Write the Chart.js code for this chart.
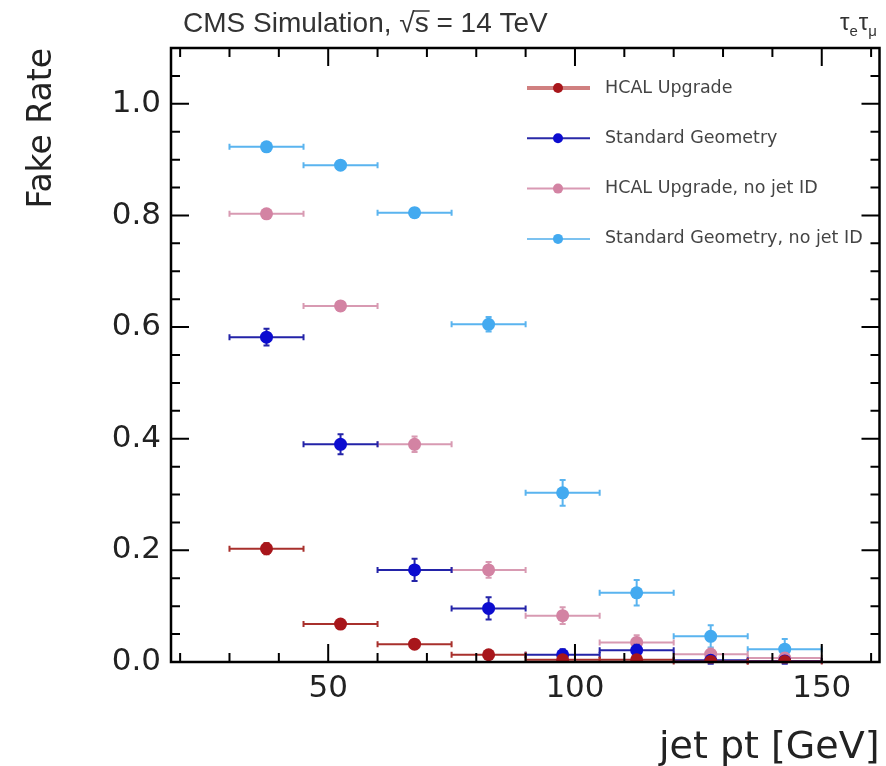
<!DOCTYPE html>
<html>
<head>
<meta charset="utf-8">
<title>Fake Rate vs jet pt</title>
<script src="https://cdn.jsdelivr.net/npm/chart.js@4.4.1/dist/chart.umd.min.js"></script>
<style>
  html, body { margin: 0; padding: 0; background: #fff; }
  canvas { display: block; }
</style>
</head>
<body>
<canvas id="fakeRate" width="886" height="766"></canvas>
<script>
// bins are 15 GeV wide, points sit at the bin centres
const binCenters = [37.5, 52.5, 67.5, 82.5, 97.5, 112.5, 127.5, 142.5];
const binHalfWidth = 7.5;

const hcalUpgrade = [0.203, 0.068, 0.032, 0.013, 0.004, 0.004, 0.001, 0.001];
const hcalUpgradeErr = [0.010, 0.007, 0.006, 0.005, 0.003, 0.003, 0.002, 0.002];

const standardGeom = [0.582, 0.390, 0.165, 0.096, 0.013, 0.021, 0.003, 0.002];
const standardGeomErr = [0.015, 0.018, 0.020, 0.020, 0.010, 0.010, 0.006, 0.005];

const hcalNoJetId = [0.803, 0.638, 0.390, 0.165, 0.083, 0.035, 0.014, 0.007];
const hcalNoJetIdErr = [0.006, 0.008, 0.014, 0.014, 0.015, 0.013, 0.010, 0.009];

const standardNoJetId = [0.923, 0.890, 0.805, 0.605, 0.303, 0.124, 0.046, 0.023];
const standardNoJetIdErr = [0.005, 0.006, 0.008, 0.013, 0.023, 0.023, 0.020, 0.018];

const xTickLabels = [50, 100, 150];
const yTickLabels = [0, 0.2, 0.4, 0.6, 0.8, 1.0];

const axisFont = "'DejaVu Sans', sans-serif";

function makeDataset(label, values, errors, color, errorColor, legendColor, legendWidth) {
  return {
    label: label,
    data: binCenters.map((x, i) => ({ x: x, y: values[i], yErr: errors[i] })),
    pointRadius: 6.5,
    pointHoverRadius: 6.5,
    pointBackgroundColor: color,
    pointBorderColor: color,
    pointBorderWidth: 0,
    showLine: false,
    errorColor: errorColor,
    legendColor: legendColor,
    legendWidth: legendWidth,
  };
}

// error bars: full bin width horizontally, stat error vertically (drawn under each dataset's markers)
const errorBars = {
  id: "errorBars",
  beforeDatasetDraw(chart, args) {
    const ds = chart.data.datasets[args.index];
    const { ctx } = chart;
    const xs = chart.scales.x, ys = chart.scales.y;
    ctx.save();
    ctx.strokeStyle = ds.errorColor;
    ctx.lineWidth = 2;
    ds.data.forEach((p) => {
      const px = xs.getPixelForValue(p.x);
      const py = ys.getPixelForValue(p.y);
      const xl = xs.getPixelForValue(p.x - binHalfWidth);
      const xr = xs.getPixelForValue(p.x + binHalfWidth);
      const yt = ys.getPixelForValue(p.y + p.yErr);
      const yb = ys.getPixelForValue(p.y - p.yErr);
      ctx.beginPath();
      ctx.moveTo(xl, py); ctx.lineTo(xr, py);
      ctx.moveTo(xl, py - 3); ctx.lineTo(xl, py + 3);
      ctx.moveTo(xr, py - 3); ctx.lineTo(xr, py + 3);
      ctx.moveTo(px, yt); ctx.lineTo(px, yb);
      ctx.moveTo(px - 3, yt); ctx.lineTo(px + 3, yt);
      ctx.moveTo(px - 3, yb); ctx.lineTo(px + 3, yb);
      ctx.stroke();
    });
    ctx.restore();
  },
};

// ROOT style frame with inward ticks on all four sides
const rootFrame = {
  id: "rootFrame",
  afterDatasetsDraw(chart) {
    const { ctx, chartArea } = chart;
    const { left, right, top, bottom } = chartArea;
    const xs = chart.scales.x, ys = chart.scales.y;
    ctx.save();
    ctx.strokeStyle = "#000";
    ctx.lineWidth = 2.5;
    ctx.strokeRect(left, top, right - left, bottom - top);
    ctx.lineWidth = 2;
    ctx.beginPath();
    for (let v = 20; v <= 160; v += 10) {
      const px = xs.getPixelForValue(v);
      const len = v % 50 === 0 ? 18 : 9;
      ctx.moveTo(px, bottom); ctx.lineTo(px, bottom - len);
      ctx.moveTo(px, top); ctx.lineTo(px, top + len);
    }
    for (let i = 0; i <= 22; i++) {
      const py = ys.getPixelForValue(i * 0.05);
      const len = i % 4 === 0 ? 18 : 9;
      ctx.moveTo(left, py); ctx.lineTo(left + len, py);
      ctx.moveTo(right, py); ctx.lineTo(right - len, py);
    }
    ctx.stroke();
    ctx.restore();
  },
  afterDraw(chart) {
    const { ctx } = chart;
    ctx.save();

    // header
    ctx.fillStyle = "#333";
    ctx.font = "28px 'Liberation Sans', Arial, sans-serif";
    ctx.textBaseline = "alphabetic";
    ctx.textAlign = "left";
    const head = "CMS Simulation, \u221As = 14 TeV";
    ctx.fillText(head, 183, 32);
    const sx = 183 + ctx.measureText("CMS Simulation, \u221A").width;
    const sw = ctx.measureText("s").width;
    ctx.strokeStyle = "#333";
    ctx.lineWidth = 1.5;
    ctx.beginPath();
    ctx.moveTo(sx - 1, 11); ctx.lineTo(sx + sw + 1, 11);
    ctx.stroke();

    // tau_e tau_mu
    let tx = 840;
    ctx.font = "24px 'Liberation Sans', Arial, sans-serif";
    ctx.fillText("\u03C4", tx, 30);
    tx += ctx.measureText("\u03C4").width;
    ctx.font = "15px 'Liberation Sans', Arial, sans-serif";
    ctx.fillText("e", tx, 36);
    tx += ctx.measureText("e").width + 1;
    ctx.font = "24px 'Liberation Sans', Arial, sans-serif";
    ctx.fillText("\u03C4", tx, 30);
    tx += ctx.measureText("\u03C4").width;
    ctx.font = "15px 'Liberation Sans', Arial, sans-serif";
    ctx.fillText("\u03BC", tx, 36);

    // legend
    chart.data.datasets.forEach((ds, i) => {
      const ly = 88 + i * 50.3;
      ctx.strokeStyle = ds.legendColor;
      ctx.lineWidth = ds.legendWidth;
      ctx.beginPath();
      ctx.moveTo(527, ly); ctx.lineTo(590, ly);
      ctx.stroke();
      ctx.fillStyle = ds.pointBackgroundColor;
      ctx.beginPath();
      ctx.arc(558, ly, 5, 0, Math.PI * 2);
      ctx.fill();
      ctx.fillStyle = "#444";
      ctx.font = "17.5px " + axisFont;
      ctx.textBaseline = "middle";
      ctx.fillText(ds.label, 605, ly);
    });
    ctx.restore();
  },
};

new Chart(document.getElementById("fakeRate"), {
  type: "scatter",
  data: {
    datasets: [
      makeDataset("HCAL Upgrade", hcalUpgrade, hcalUpgradeErr, "#a8161b", "#a8302c", "#d08080", 4),
      makeDataset("Standard Geometry", standardGeom, standardGeomErr, "#0c0cd0", "#2323a8", "#2a2aa8", 2),
      makeDataset("HCAL Upgrade, no jet ID", hcalNoJetId, hcalNoJetIdErr, "#d383a3", "#d89ab2", "#d99ab4", 2),
      makeDataset("Standard Geometry, no jet ID", standardNoJetId, standardNoJetIdErr, "#43aaf0", "#5ab4ef", "#7cc2f0", 2),
    ],
  },
  options: {
    responsive: false,
    animation: false,
    layout: { padding: { top: 48, right: 3, left: 0, bottom: 0 } },
    plugins: {
      legend: { display: false },
      tooltip: { enabled: false },
    },
    scales: {
      x: {
        type: "linear",
        min: 18.15,
        max: 161.7,
        grid: { display: false, drawTicks: false },
        border: { display: false },
        afterBuildTicks: (scale) => {
          scale.ticks = xTickLabels.map((v) => ({ value: v }));
        },
        afterFit: (scale) => {
          scale.height = 104;
        },
        ticks: {
          color: "#222",
          padding: 8,
          font: { family: axisFont, size: 31 },
          callback: (v) => String(v),
        },
        title: {
          display: true,
          text: "jet pt [GeV]",
          align: "end",
          color: "#222",
          font: { family: axisFont, size: 38 },
          padding: { top: 0, bottom: -5 },
        },
      },
      y: {
        type: "linear",
        min: 0,
        max: 1.1,
        grid: { display: false, drawTicks: false },
        border: { display: false },
        afterBuildTicks: (scale) => {
          scale.ticks = yTickLabels.map((v) => ({ value: v }));
        },
        afterFit: (scale) => {
          scale.width = 171;
        },
        ticks: {
          color: "#222",
          padding: 10,
          font: { family: axisFont, size: 31 },
          callback: (v) => v.toFixed(1),
        },
        title: {
          display: true,
          text: "Fake Rate",
          align: "end",
          color: "#222",
          font: { family: axisFont, size: 33 },
          padding: { top: 23, bottom: 0 },
        },
      },
    },
  },
  plugins: [errorBars, rootFrame],
});
</script>
</body>
</html>
